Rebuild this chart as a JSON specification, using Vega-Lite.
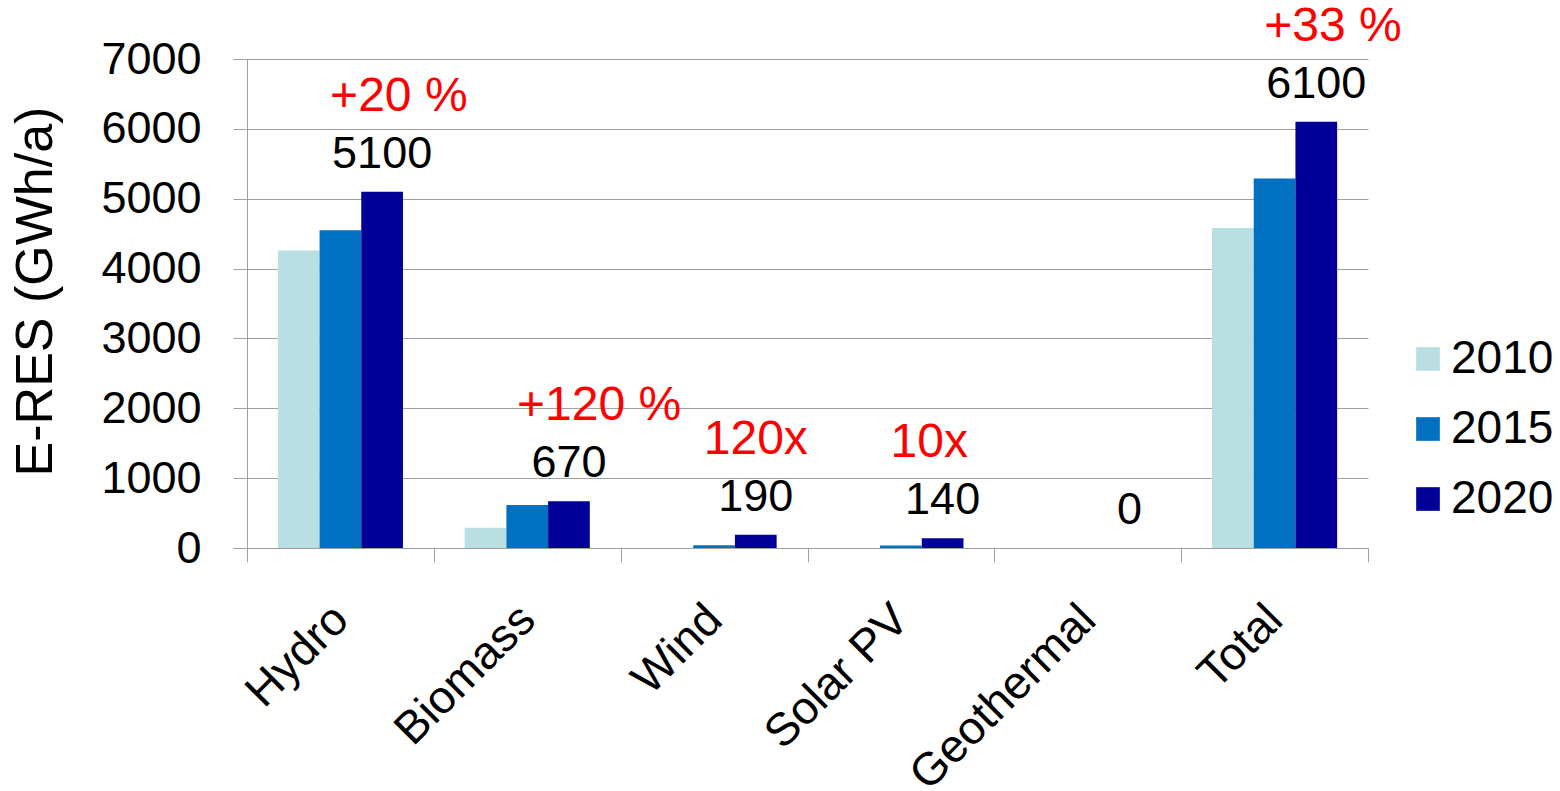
{
  "$schema": "https://vega.github.io/schema/vega-lite/v6.json",
  "width": 1121,
  "height": 489,
  "autosize": {"type": "none"},
  "padding": {"left": 247, "top": 59, "right": 192, "bottom": 243},
  "background": "white",
  "config": {
    "font": "Liberation Sans",
    "view": {"stroke": null},
    "axis": {"labelColor": "black", "titleColor": "black", "titleFontWeight": "normal"}
  },
  "datasets": {
    "bars": [
      {"source": "Hydro", "year": "2010", "value": 4260},
      {"source": "Hydro", "year": "2015", "value": 4550},
      {"source": "Hydro", "year": "2020", "value": 5100},
      {"source": "Biomass", "year": "2010", "value": 290},
      {"source": "Biomass", "year": "2015", "value": 615},
      {"source": "Biomass", "year": "2020", "value": 670},
      {"source": "Wind", "year": "2010", "value": 0},
      {"source": "Wind", "year": "2015", "value": 40},
      {"source": "Wind", "year": "2020", "value": 190},
      {"source": "Solar PV", "year": "2010", "value": 0},
      {"source": "Solar PV", "year": "2015", "value": 35},
      {"source": "Solar PV", "year": "2020", "value": 140},
      {"source": "Geothermal", "year": "2010", "value": 0},
      {"source": "Geothermal", "year": "2015", "value": 0},
      {"source": "Geothermal", "year": "2020", "value": 0},
      {"source": "Total", "year": "2010", "value": 4580},
      {"source": "Total", "year": "2015", "value": 5290},
      {"source": "Total", "year": "2020", "value": 6100}
    ],
    "labels": [
      {"source": "Hydro", "year": "2020", "value": 5100, "label": "5100", "change": "+20 %"},
      {"source": "Biomass", "year": "2020", "value": 670, "label": "670", "change": "+120 %"},
      {"source": "Wind", "year": "2020", "value": 190, "label": "190", "change": "120x"},
      {"source": "Solar PV", "year": "2020", "value": 140, "label": "140", "change": "10x"},
      {"source": "Geothermal", "year": "2020", "value": 0, "label": "0", "change": ""},
      {"source": "Total", "year": "2020", "value": 6100, "label": "6100", "change": "+33 %"}
    ]
  },
  "encoding": {
    "x": {
      "field": "source",
      "type": "nominal",
      "sort": ["Hydro", "Biomass", "Wind", "Solar PV", "Geothermal", "Total"],
      "scale": {"paddingInner": 0, "paddingOuter": 0},
      "axis": {
        "title": null,
        "tickBand": "extent",
        "domainColor": "#A0A0A0",
        "tickColor": "#A0A0A0",
        "tickSize": 14,
        "labelAngle": -45,
        "labelAlign": "right",
        "labelBaseline": "middle",
        "labelFontSize": 46,
        "labelPadding": 50,
        "labelLimit": 400
      }
    },
    "xOffset": {
      "field": "year",
      "type": "nominal",
      "scale": {"paddingInner": 0, "paddingOuter": 0.74}
    },
    "y": {
      "field": "value",
      "type": "quantitative",
      "scale": {"domain": [0, 7000], "nice": false},
      "axis": {
        "title": "E-RES (GWh/a)",
        "titleFontSize": 52,
        "titleAngle": -90,
        "titleBaseline": "bottom",
        "titleAlign": "center",
        "titleX": -185,
        "titleY": 232,
        "values": [0, 1000, 2000, 3000, 4000, 5000, 6000, 7000],
        "format": "d",
        "labelFontSize": 45,
        "labelPadding": 32,
        "tickSize": 14,
        "tickColor": "#A0A0A0",
        "domainColor": "#A0A0A0",
        "gridColor": "#A0A0A0",
        "grid": true
      }
    }
  },
  "layer": [
    {
      "data": {"name": "bars"},
      "mark": {"type": "bar", "strokeWidth": 1, "strokeOpacity": 0.5},
      "encoding": {
        "color": {
          "field": "year",
          "type": "nominal",
          "scale": {"domain": ["2010", "2015", "2020"], "range": ["#B9DFE3", "#0070C0", "#000099"]},
          "legend": {
            "title": null,
            "orient": "none",
            "legendX": 1158,
            "legendY": 277,
            "symbolType": "square",
            "symbolSize": 560,
            "symbolStrokeWidth": 0,
            "labelFontSize": 46,
            "labelColor": "black",
            "labelOffset": 0,
            "rowPadding": 24,
            "labelLimit": 300
          }
        }
      }
    },
    {
      "data": {"name": "labels"},
      "mark": {"type": "text", "fontSize": 45, "color": "black", "baseline": "middle", "dy": -38},
      "encoding": {"text": {"field": "label"}}
    },
    {
      "data": {"name": "labels"},
      "mark": {"type": "text", "fontSize": 48, "color": "#FF0000", "baseline": "middle", "align": "left", "dy": -95, "dx": -52},
      "encoding": {"text": {"field": "change"}}
    }
  ]
}
